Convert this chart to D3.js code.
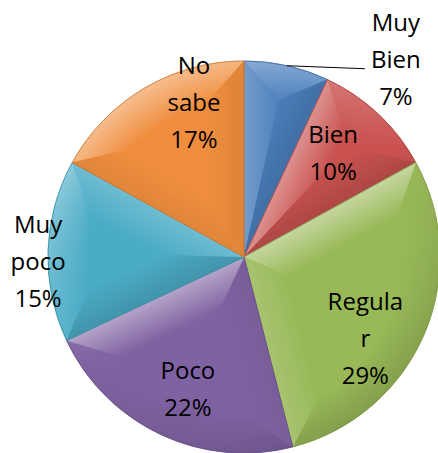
<!DOCTYPE html>
<html>
<head>
<meta charset="utf-8">
<script src="https://cdn.jsdelivr.net/npm/d3@7"></script>
<style>
  body { margin: 0; background: #fff; }
  text { font-family: "Open Sans", sans-serif; font-size: 24px; fill: #000; }
</style>
</head>
<body>
<script>
// data
var categories = ["Muy Bien", "Bien", "Regular", "Poco", "Muy poco", "No sabe"];
var values = [7, 10, 29, 22, 15, 17];
var colors = ["#4A7EBB", "#C9524F", "#99B958", "#7F62A1", "#4BACC6", "#F08E3E"];
// how the label text wraps in the picture
var nameLines = [["Muy", "Bien"], ["Bien"], ["Regula", "r"], ["Poco"], ["Muy", "poco"], ["No", "sabe"]];

// layout
var width = 438, height = 453;
var cx = 244, cy = 257, R = 196;
var bevel = 38;
var lineH = 37;
// label block centre as [angle in degrees from top, distance from centre]
var labelPolar = [[37.6, 249], [40.6, 137], [123.8, 146], [203.1, 143], [268.8, 206], [342, 162]];
var light = [-0.55, -0.83];

var svg = d3.select("body").append("svg")
    .attr("width", width)
    .attr("height", height);
var defs = svg.append("defs");

var g = svg.append("g").attr("transform", "translate(" + cx + "," + cy + ")");

var pie = d3.pie().sort(null).value(function(d) { return d; });
var arcs = pie(values);
var arc = d3.arc().innerRadius(0).outerRadius(R);
var total = d3.sum(values);
var pct = function(v) { return Math.round(v / total * 100) + "%"; };

function shade(base, n) {
    var dot = n[0] * light[0] + n[1] * light[1];
    if (dot > 0) return d3.interpolateRgb(base, "#ffffff")(0.42 * dot);
    return d3.interpolateRgb(base, "#000000")(0.14 * -dot);
}
function dir(a) { return [Math.sin(a), -Math.cos(a)]; }
function poly(pts) { return "M" + pts.map(function(p) { return p[0] + "," + p[1]; }).join("L") + "Z"; }

var gid = 0;
function grad(x1, y1, x2, y2, c0, c1) {
    var id = "gr" + (gid++);
    var lg = defs.append("linearGradient")
        .attr("id", id)
        .attr("gradientUnits", "userSpaceOnUse")
        .attr("x1", x1).attr("y1", y1).attr("x2", x2).attr("y2", y2);
    lg.append("stop").attr("offset", 0).attr("stop-color", c0);
    lg.append("stop").attr("offset", 1).attr("stop-color", c1);
    return "url(#" + id + ")";
}

arcs.forEach(function(d, i) {
    var base = colors[i];
    var a0 = d.startAngle, a1 = d.endAngle, half = (a1 - a0) / 2, mid = (a0 + a1) / 2;
    var slice = g.append("g")
        .attr("class", "slice")
        .attr("transform", "translate(" + cx + "," + cy + ")")
        .attr("transform", null);

    slice.append("path")
        .attr("d", arc(d))
        .style("fill", base);

    var ri = R - bevel;
    var da = Math.asin(bevel / ri);
    var apexDist = bevel / Math.sin(half);
    var A, s1, e1, collapsed = false;
    if (a0 + da < a1 - da && apexDist < ri) {
        A = d3.pointRadial(mid, apexDist);
        s1 = a0 + da; e1 = a1 - da;
    } else {
        collapsed = true;
        A = d3.pointRadial(mid, R / (1 + Math.sin(half)));
    }
    var S = d3.pointRadial(a0, R), E = d3.pointRadial(a1, R);
    var Si = collapsed ? A : d3.pointRadial(s1, ri);
    var Ei = collapsed ? A : d3.pointRadial(e1, ri);

    // rim facet in small steps, fading inward
    var n = Math.max(4, Math.ceil((a1 - a0) / 0.03));
    for (var k = 0; k < n; k++) {
        var t0 = a0 + (a1 - a0) * k / n, t1 = a0 + (a1 - a0) * (k + 1) / n;
        var tm = (t0 + t1) / 2;
        var p0, p1;
        if (collapsed) { p0 = A; p1 = A; }
        else {
            p0 = d3.pointRadial(s1 + (e1 - s1) * k / n, ri);
            p1 = d3.pointRadial(s1 + (e1 - s1) * (k + 1) / n, ri);
        }
        var c = shade(base, dir(tm));
        var o = d3.pointRadial(tm, R), inn = d3.pointRadial(tm, R - bevel * 1.1);
        var f = grad(o[0], o[1], inn[0], inn[1], c, base);
        slice.append("path")
            .attr("d", poly([d3.pointRadial(t0, R), d3.pointRadial(t1, R), p1, p0]))
            .style("fill", f)
            .style("stroke", f)
            .style("stroke-width", 0.7);
    }

    // radial facets, fading away from the edge
    [[S, Si, a0 - Math.PI / 2], [E, Ei, a1 + Math.PI / 2]].forEach(function(fc) {
        var nrm = dir(fc[2]);
        var c = shade(base, nrm);
        var f = grad(0, 0, -nrm[0] * bevel, -nrm[1] * bevel, c, base);
        slice.append("path")
            .attr("d", poly([[0, 0], fc[0], fc[1], A]))
            .style("fill", f)
            .style("stroke", f)
            .style("stroke-width", 0.5);
    });

    slice.append("path")
        .attr("d", arc(d))
        .style("fill", "none")
        .style("stroke", d3.color(base).darker(0.5))
        .style("stroke-width", 0.8);
});

// labels
arcs.forEach(function(d, i) {
    var p = d3.pointRadial(labelPolar[i][0] * Math.PI / 180, labelPolar[i][1]);
    var lines = nameLines[i].concat([pct(d.data)]);
    var t = g.append("text")
        .attr("text-anchor", "middle");
    lines.forEach(function(s, j) {
        t.append("tspan")
            .attr("x", p[0])
            .attr("y", p[1] + (j - (lines.length - 1) / 2) * lineH + 8.5)
            .text(s);
    });
});

// leader line for the small slice
var d0 = arcs[0];
var from = d3.pointRadial((d0.startAngle + d0.endAngle) / 2, R);
var lp = d3.pointRadial(labelPolar[0][0] * Math.PI / 180, labelPolar[0][1]);
g.append("line")
    .attr("x1", from[0]).attr("y1", from[1])
    .attr("x2", lp[0] - 31).attr("y2", lp[1] + 9)
    .style("stroke", "#000")
    .style("stroke-width", 1);
</script>
</body>
</html>
